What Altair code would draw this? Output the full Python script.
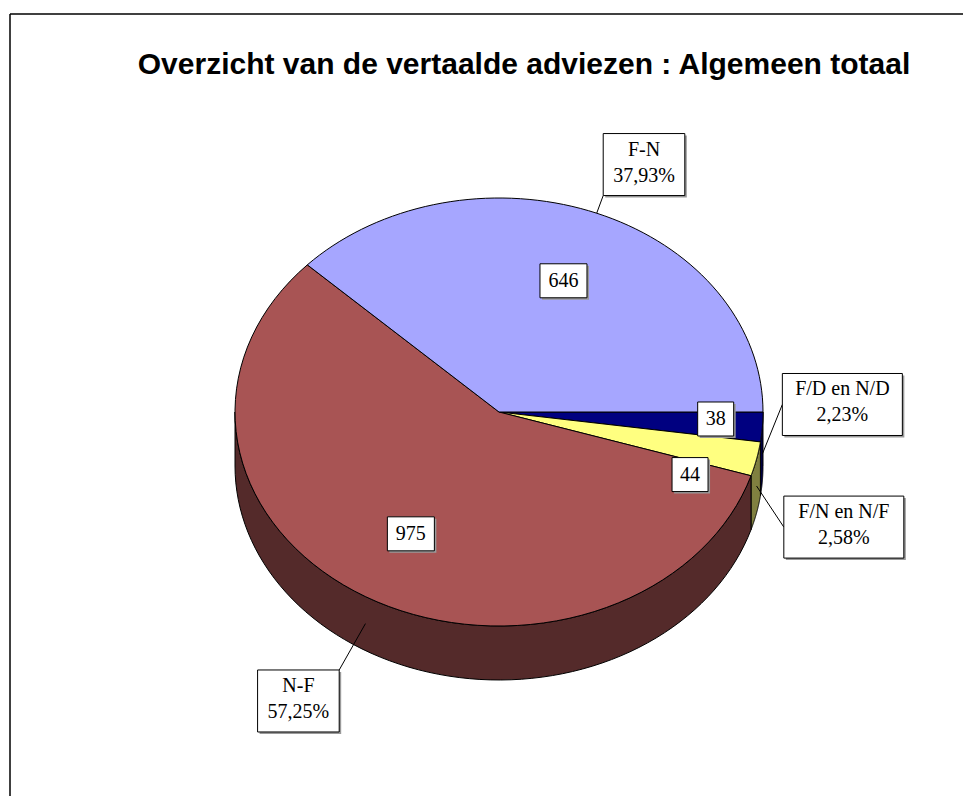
import altair as alt
import pandas as pd

# ---------------- data ----------------
TITLE = "Overzicht van de vertaalde adviezen : Algemeen totaal"
CATEGORIES = ["F/D en N/D", "F/N en N/F", "N-F", "F-N"]
VALUES = [38, 44, 975, 646]

# ---------------- styles ----------------
TOP_COLORS = ["#000080", "#FFFF80", "#A85454", "#A6A6FF"]
SIDE_COLORS = ["#000040", "#808040", "#542A2A", "#53537F"]

W, H = 953, 782                      # plot area (view) size
CX, CY, RX, RY, DEPTH = 489, 398, 264, 214, 54
N = 72                               # points per arc

# label layout tweaks (pixels), like Excel's manual label placement
VALUE_NUDGE = {"F/D en N/D": (6, -5), "F/N en N/F": (-15, 25)}
OUT_NUDGE = {"F-N": (18, 11), "F/D en N/D": (1, -27), "F/N en N/F": (10, 54), "N-F": (-27, 49)}


def nudge_expr(d, k):
    expr = "0"
    for cat, v in d.items():
        expr = f"(datum.category == '{cat}' ? {v[k]} : {expr})"
    return expr


df = pd.DataFrame({"category": CATEGORIES, "value": VALUES, "order": list(range(len(VALUES)))})

XS = alt.Scale(domain=[0, W], nice=False, zero=False)
YS = alt.Scale(domain=[0, H], nice=False, zero=False, reverse=True)


def xenc(f):
    return alt.X(f, type="quantitative", scale=XS, axis=None)


def yenc(f):
    return alt.Y(f, type="quantitative", scale=YS, axis=None)


base = (
    alt.Chart(df)
    .transform_window(cum="sum(value)", sort=[alt.SortField("order", order="ascending")], frame=[None, 0])
    .transform_joinaggregate(total="sum(value)")
    .transform_calculate(a0="PI/2 + 2*PI*(datum.cum - datum.value)/datum.total")
    .transform_calculate(a1="PI/2 + 2*PI*datum.cum/datum.total")
    .transform_calculate(mid="(datum.a0 + datum.a1)/2")
)

# ---- side (depth) of the front-facing part ----
side = (
    base.transform_calculate(s="max(datum.a0, PI/2)")
    .transform_calculate(e="min(datum.a1, 3*PI/2)")
    .transform_filter("datum.e > datum.s + 1e-9")
    .transform_calculate(seq=f"sequence(0, {2 * N + 3})")
    .transform_flatten(["seq"], as_=["i"])
    .transform_calculate(
        ang=f"datum.i <= {N} ? datum.s + (datum.e - datum.s)*datum.i/{N} : "
            f"(datum.i <= {2 * N + 1} ? datum.e - (datum.e - datum.s)*(datum.i - {N + 1})/{N} : datum.s)"
    )
    .transform_calculate(
        px=f"{CX} + {RX}*sin(datum.ang)",
        py=f"{CY} - {RY}*cos(datum.ang) + ((datum.i > {N} && datum.i <= {2 * N + 1}) ? {DEPTH} : 0)",
    )
    .mark_line(stroke="black", strokeWidth=1, strokeJoin="round")
    .encode(
        x=xenc("px"), y=yenc("py"),
        fill=alt.Fill("category:N", scale=alt.Scale(domain=CATEGORIES, range=SIDE_COLORS), legend=None),
        detail="category:N",
        order=alt.Order("i:Q"),
    )
)

# ---- top surface ----
top = (
    base.transform_calculate(seq=f"sequence(0, {N + 3})")
    .transform_flatten(["seq"], as_=["i"])
    .transform_calculate(ang=f"datum.a0 + (datum.a1 - datum.a0)*(datum.i - 1)/{N}")
    .transform_calculate(
        px=f"(datum.i == 0 || datum.i == {N + 2}) ? {CX} : {CX} + {RX}*sin(datum.ang)",
        py=f"(datum.i == 0 || datum.i == {N + 2}) ? {CY} : {CY} - {RY}*cos(datum.ang)",
    )
    .mark_line(stroke="black", strokeWidth=1, strokeJoin="round")
    .encode(
        x=xenc("px"), y=yenc("py"),
        fill=alt.Fill("category:N", scale=alt.Scale(domain=CATEGORIES, range=TOP_COLORS), legend=None),
        detail="category:N",
        order=alt.Order("i:Q"),
    )
)

# ---- value labels inside slices ----
vbase = (
    base.transform_calculate(r="datum.value/datum.total < 0.05 ? 0.8 : 0.66")
    .transform_calculate(
        lx=f"{CX} + {RX}*datum.r*sin(datum.mid) + {nudge_expr(VALUE_NUDGE, 0)}",
        ly=f"{CY} - {RY}*datum.r*cos(datum.mid) + {nudge_expr(VALUE_NUDGE, 1)}",
    )
    .transform_calculate(bw="length(toString(datum.value))*11 + 14")
    .transform_calculate(bl="datum.lx - datum.bw/2", br="datum.lx + datum.bw/2",
                         bt="datum.ly - 17", bb="datum.ly + 17")
    .transform_calculate(sl="datum.bl + 2", sr="datum.br + 2", st="datum.bt + 2", sb="datum.bb + 2")
)
v_shadow = vbase.mark_rect(fill="#9a9a9a").encode(
    x=xenc("sl"), x2=alt.X2("sr"), y=yenc("st"), y2=alt.Y2("sb"))
v_box = vbase.mark_rect(fill="white", stroke="black", strokeWidth=1).encode(
    x=xenc("bl"), x2=alt.X2("br"), y=yenc("bt"), y2=alt.Y2("bb"))
v_text = vbase.mark_text(font="Liberation Serif", fontSize=20, align="center",
                         baseline="middle", color="black").encode(
    x=xenc("lx"), y=yenc("ly"), text=alt.Text("value:Q", format="d"))

# ---- category labels outside, with leader lines ----
obase = (
    base.transform_calculate(pct="replace(format(100*datum.value/datum.total, '.2f'), '.', ',') + '%'")
    .transform_calculate(label="datum.category + '\\n' + datum.pct")
    .transform_calculate(
        lx=f"{CX} + {RX}*1.3*sin(datum.mid) + {nudge_expr(OUT_NUDGE, 0)}",
        ly=f"{CY} - {RY}*1.3*cos(datum.mid) + {nudge_expr(OUT_NUDGE, 1)}",
    )
    .transform_calculate(bw="max(length(datum.category), length(datum.pct))*9.6 + 24")
    .transform_calculate(bl="datum.lx - datum.bw/2", br="datum.lx + datum.bw/2",
                         bt="datum.ly - 31", bb="datum.ly + 31")
    .transform_calculate(sl="datum.bl + 2", sr="datum.br + 2", st="datum.bt + 2", sb="datum.bb + 2")
    .transform_calculate(
        ex=f"{CX} + {RX}*sin(datum.mid)",
        ey=f"{CY} - {RY}*cos(datum.mid) + (cos(datum.mid) < 0 ? {DEPTH / 2} : 0)",
    )
    .transform_calculate(
        cxs="datum.ex < datum.bl ? datum.bl : (datum.ex > datum.br ? datum.br : datum.ex)",
        cys="datum.ey < datum.bt ? datum.bt : (datum.ey > datum.bb ? datum.bb : datum.ey)",
    )
    .transform_calculate(
        sx="datum.cxs",
        sy="abs(datum.ex - datum.cxs) > abs(datum.ey - datum.cys) ? datum.ly : datum.cys",
    )
)
leader = obase.mark_rule(color="black", strokeWidth=1).encode(
    x=xenc("sx"), y=yenc("sy"), x2=alt.X2("ex"), y2=alt.Y2("ey"))
o_shadow = obase.mark_rect(fill="#9a9a9a").encode(
    x=xenc("sl"), x2=alt.X2("sr"), y=yenc("st"), y2=alt.Y2("sb"))
o_box = obase.mark_rect(fill="white", stroke="black", strokeWidth=1).encode(
    x=xenc("bl"), x2=alt.X2("br"), y=yenc("bt"), y2=alt.Y2("bb"))
o_text = obase.mark_text(font="Liberation Serif", fontSize=20, align="center", baseline="middle",
                         lineBreak="\n", lineHeight=26, dy=-15, color="black").encode(
    x=xenc("lx"), y=yenc("ly"), text="label:N")

# ---- title and the chart-area frame (top and left edges visible) ----
one = pd.DataFrame({"t": [TITLE]})
title = alt.Chart(one).mark_text(
    font="Liberation Sans", fontSize=30, fontWeight="bold", align="center",
    baseline="alphabetic", color="black").encode(
    text="t:N", x=alt.value(514), y=alt.value(60))
frame_top = alt.Chart(one).mark_rule(color="black", strokeWidth=1.5).encode(
    x=alt.value(0), x2=alt.value(W), y=alt.value(0))
frame_left = alt.Chart(one).mark_rule(color="black", strokeWidth=1.5).encode(
    x=alt.value(0), y=alt.value(0), y2=alt.value(H))

chart = (
    alt.layer(side, top, leader, v_shadow, v_box, v_text, o_shadow, o_box, o_text,
              title, frame_top, frame_left)
    .resolve_scale(fill="independent")
    .properties(width=W, height=H, padding={"left": 2, "top": 6, "right": 0, "bottom": 0},
                autosize="none", background="white")
    .configure_view(stroke=None)
)

chart.save("out.html", embed_options={"renderer": "svg", "actions": False})
